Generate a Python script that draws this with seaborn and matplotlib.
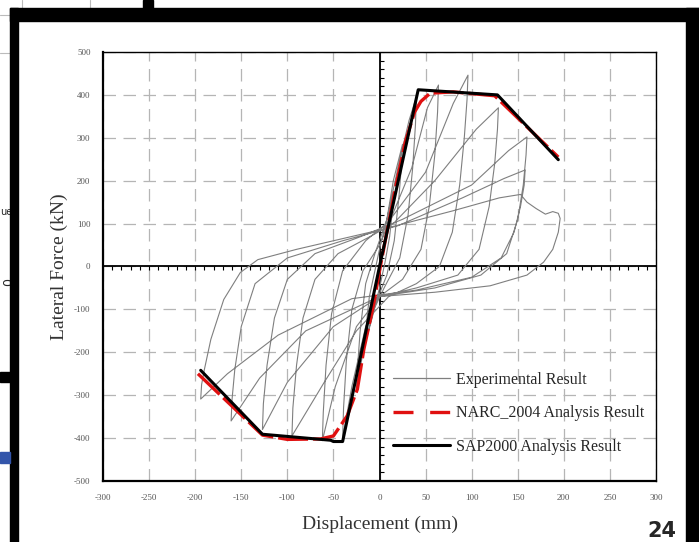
import numpy as np
import pandas as pd
import matplotlib
matplotlib.use("Agg")
import matplotlib.pyplot as plt
import seaborn as sns
from matplotlib.patches import Rectangle
from matplotlib.lines import Line2D

sns.set_theme(style="white")
plt.rcParams['font.family'] = ['Liberation Serif', 'DejaVu Serif']

# ---------------- data ----------------
x_ticks = [-300, -250, -200, -150, -100, -50, 0, 50, 100, 150, 200, 250, 300]
y_ticks = [-500, -400, -300, -200, -100, 0, 100, 200, 300, 400, 500]

sap_disp = [-194, -127, -53, -50, -40, 0, 42, 128, 194]
sap_force = [-242, -391, -405, -408, -408, 0, 412, 400, 249]

narc_disp = [-197, -127, -100, -64, -50, -35, -24, -17, -6, 0, 8, 18, 28, 38, 45, 55, 80, 125, 194]
narc_force = [-250, -393, -403, -402, -395, -348, -286, -193, -84, -10, 80, 190, 290, 360, 385, 404, 407, 398, 255]

exp_disp = [
    0, 8, 15, 14, 11, 6, 0, -8, -15, -14, -11, -5, 0, 8,
    15, 25, 24, 21, 16, 8, -5, -18, -25, -24, -21, -15, -5, 8,
    20, 32, 40, 39, 36, 31, 22, 5, -15, -30, -40, -39, -36, -30, -18, 0, 12,
    35, 52, 64, 63, 60, 54, 45, 25, 0, -25, -48, -62, -61, -58, -52, -40, -15, 10,
    50, 80, 96, 95, 92, 87, 79, 65, 40, 10, -25, -60, -95, -94, -90, -83, -70, -45, -10, 15,
    60, 105, 129, 128, 125, 119, 108, 85, 40, 0, -50, -100, -127, -126, -122, -114, -100, -70, -20, 25,
    100, 140, 160, 159, 156, 150, 138, 110, 60, 0, -80, -130, -161, -160, -157, -150, -135, -100, -40, 20,
    90, 135, 158, 157, 153, 146, 132, 100, 40, -30, -110, -165, -194, -193, -190, -183, -169, -151, -132, -90, -40, 0,
    80, 130, 153, 160, 170, 180, 188, 194, 196, 194, 188, 178, 160, 120, 60, 0,
]
exp_force = [
    0, 90, 170, 130, 70, 10, -50, -120, -175, -130, -70, -10, 40, 110,
    200, 285, 240, 160, 60, -20, -90, -200, -290, -240, -150, -40, 30, 110,
    230, 340, 395, 330, 230, 120, 20, -50, -140, -280, -400, -330, -220, -100, -10, 50, 110,
    230, 370, 423, 360, 260, 140, 40, -30, -70, -140, -280, -406, -340, -230, -110, -10, 60, 105,
    220, 380, 446, 390, 300, 190, 80, 0, -40, -70, -150, -270, -395, -330, -230, -120, -30, 30, 70, 100,
    200, 320, 370, 320, 240, 140, 40, -20, -50, -70, -140, -270, -380, -320, -230, -120, -30, 30, 70, 110,
    190, 270, 302, 260, 190, 110, 30, -20, -50, -70, -150, -260, -360, -310, -240, -140, -40, 20, 60, 95,
    160, 205, 225, 190, 140, 80, 20, -25, -55, -75, -160, -250, -309, -275, -240, -170, -77, -14, 16, 40, 65, 85,
    130, 160, 168, 150, 135, 122, 128, 124, 112, 80, 40, 10, -20, -45, -60, -70,
]

# ---------------- figure ----------------
fig = plt.figure(figsize=(6.99, 5.42), dpi=100)
fig.patch.set_facecolor("white")

W, H = 699.0, 542.0
def fx(px): return px / W
def fy(py): return 1 - py / H

# slide decorations (outside the chart)
for (x0, y0, x1, y1, c) in [
    (10, 8, 699, 21, "black"),      # top bar
    (10, 8, 18, 542, "black"),      # left bar
    (686, 8, 699, 542, "black"),    # right bar
    (143, 0, 153, 10, "black"),
    (0, 372, 12, 382, "black"),
    (0, 452, 10, 463, "#3355aa"),
]:
    fig.patches.append(Rectangle((fx(x0), fy(y1)), fx(x1 - x0), (y1 - y0) / H,
                                 transform=fig.transFigure, color=c, zorder=5))
for (x0, y0, x1, y1) in [(22, 0, 22, 8), (90, 0, 90, 8), (0, 15, 10, 15), (0, 53, 10, 53)]:
    fig.lines.append(Line2D([fx(x0), fx(x1)], [fy(y0), fy(y1)], transform=fig.transFigure,
                            color="#bbbbbb", lw=0.8))
fig.text(fx(0), fy(212), "ue", fontsize=7, va="center", ha="left", family="DejaVu Sans")
fig.text(fx(2), fy(282), "0", fontsize=9, va="center", ha="left", family="DejaVu Sans", rotation=90)
fig.text(fx(662), fy(541), "24", fontsize=15, va="bottom", ha="center", family="DejaVu Sans",
         fontweight="bold")

ax = fig.add_axes([103 / W, 1 - 481 / H, (656 - 103) / W, (481 - 52) / H])
ax.set_facecolor("white")

sns.lineplot(x=exp_disp, y=exp_force, sort=False, estimator=None, ax=ax,
             color="#7f7f7f", lw=0.8)
sns.lineplot(x=narc_disp, y=narc_force, sort=False, estimator=None, ax=ax,
             color="#e01010", lw=2.4)
ax.lines[-1].set_dashes((9, 1.5))
sns.lineplot(x=sap_disp, y=sap_force, sort=False, estimator=None, ax=ax,
             color="black", lw=2.2)

ax.set_xlim(-300, 300)
ax.set_ylim(-500, 500)
ax.set_xticks(x_ticks)
ax.set_yticks(y_ticks)
ax.set_xticklabels([str(v) for v in x_ticks], fontsize=6.5, color="#555555")
ax.set_yticklabels([str(v) for v in y_ticks], fontsize=6.5, color="#555555")
ax.tick_params(length=0, pad=9)
ax.grid(True, color="#b5b5b5", lw=0.9, linestyle=(0, (10, 6)))
ax.set_axisbelow(True)

# zero axes with minor marks
ax.axhline(0, color="black", lw=1.3, zorder=1.5)
ax.axvline(0, color="black", lw=1.3, zorder=1.5)
mx = np.arange(-300, 301, 10)
ax.plot(mx, np.zeros_like(mx), ls="none", marker=3, ms=3, color="black", mew=0.8, zorder=1.5)
my = np.arange(-500, 501, 20)
ax.plot(np.zeros_like(my), my, ls="none", marker=1, ms=3, color="black", mew=0.8, zorder=1.5)

for s in ["left", "bottom"]:
    ax.spines[s].set_linewidth(1.6)
    ax.spines[s].set_color("black")
for s in ["top", "right"]:
    ax.spines[s].set_linewidth(1.0)
    ax.spines[s].set_color("black")

ax.set_xlabel("Displacement (mm)", fontsize=14, color="#333333", labelpad=10)
ax.set_ylabel("Lateral Force (kN)", fontsize=14, color="#333333", labelpad=4)

handles = [
    Line2D([], [], color="#7f7f7f", lw=0.9),
    Line2D([], [], color="#e01010", lw=2.4, dashes=(6, 5)),
    Line2D([], [], color="black", lw=2.2),
]
labels = ["Experimental Result", "NARC_2004 Analysis Result", "SAP2000 Analysis Result"]
ax.legend(handles, labels, loc="upper left", bbox_to_anchor=(0.512, 0.27), frameon=False,
          fontsize=11.5, handlelength=3.6, labelspacing=1.1, handletextpad=0.35,
          borderaxespad=0)

fig.savefig("out.png", dpi=100, facecolor="white")
